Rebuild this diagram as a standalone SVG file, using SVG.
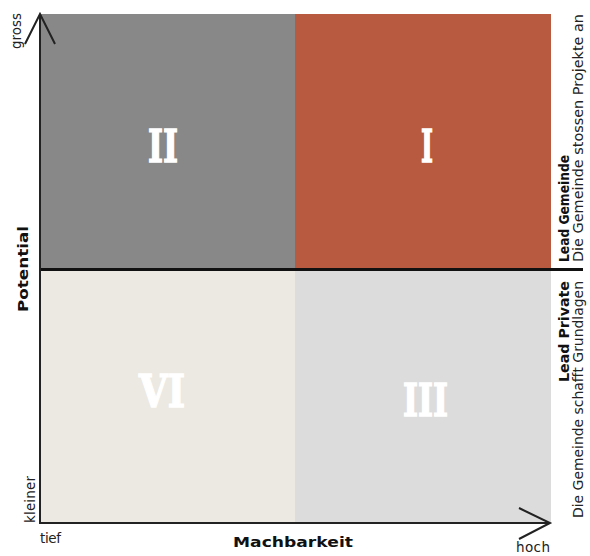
<svg xmlns="http://www.w3.org/2000/svg" width="590" height="556" viewBox="0 0 590 556">
<style>
.num{font-family:"DejaVu Serif",serif;font-weight:bold;font-size:45px;fill:#ffffff;stroke:#ffffff;stroke-width:1.5}
.lab{font-family:"DejaVu Sans","Liberation Sans",sans-serif;font-size:13.5px;fill:#222}
.bold{font-family:"DejaVu Sans","Liberation Sans",sans-serif;font-weight:bold;font-size:14px;fill:#111}
.ax{stroke:#222;stroke-width:2;fill:none}
</style>
<rect width="590" height="556" fill="#ffffff"/>
<g id="q2"><rect x="40" y="14" width="255" height="255" fill="#878887"/><text class="num" x="148" y="162" textLength="30" lengthAdjust="spacingAndGlyphs">II</text></g>
<g id="q1"><rect x="295" y="14" width="256" height="255" fill="#b85a40"/><text class="num" x="421" y="162" textLength="12" lengthAdjust="spacingAndGlyphs">I</text></g>
<g id="q6"><rect x="40" y="269" width="255" height="254" fill="#ece9e2"/><text class="num" x="139" y="407" textLength="46" lengthAdjust="spacingAndGlyphs">VI</text></g>
<g id="q3"><rect x="295" y="269" width="256" height="254" fill="#dcdcdc"/><text class="num" x="403" y="416" textLength="45" lengthAdjust="spacingAndGlyphs">III</text></g>
<g id="connectors">
<line x1="40" y1="269.5" x2="583" y2="269.5" stroke="#111" stroke-width="3"/>
<line class="ax" x1="40" y1="14" x2="40" y2="524"/>
<polyline class="ax" points="25,44 40,14 55,44"/>
<line class="ax" x1="39" y1="523" x2="550" y2="523" stroke-width="2.5"/>
<polyline class="ax" points="519,508 550,523 519,539"/>
</g>
<g id="labels">
<text class="lab" transform="translate(21,49) rotate(-90)" textLength="36">gross</text>
<text class="lab" transform="translate(35,523) rotate(-90)" textLength="47">kleiner</text>
<text class="lab" x="40" y="543" textLength="21">tief</text>
<text class="lab" x="516" y="552" textLength="34">hoch</text>
<text class="bold" x="233" y="547" font-size="18" textLength="120" lengthAdjust="spacingAndGlyphs">Machbarkeit</text>
<text class="bold" transform="translate(28,312) rotate(-90)" font-size="18" textLength="86" lengthAdjust="spacingAndGlyphs">Potential</text>
<text class="bold" transform="translate(569,262) rotate(-90)" textLength="107" lengthAdjust="spacingAndGlyphs">Lead Gemeinde</text>
<text class="lab" transform="translate(583,262) rotate(-90)" font-size="14" textLength="248" lengthAdjust="spacingAndGlyphs">Die Gemeinde stossen Projekte an</text>
<text class="bold" transform="translate(569,382) rotate(-90)" textLength="101" lengthAdjust="spacingAndGlyphs">Lead Private</text>
<text class="lab" transform="translate(583,518) rotate(-90)" font-size="14" textLength="237" lengthAdjust="spacingAndGlyphs">Die Gemeinde schafft Grundlagen</text>
</g>
</svg>
